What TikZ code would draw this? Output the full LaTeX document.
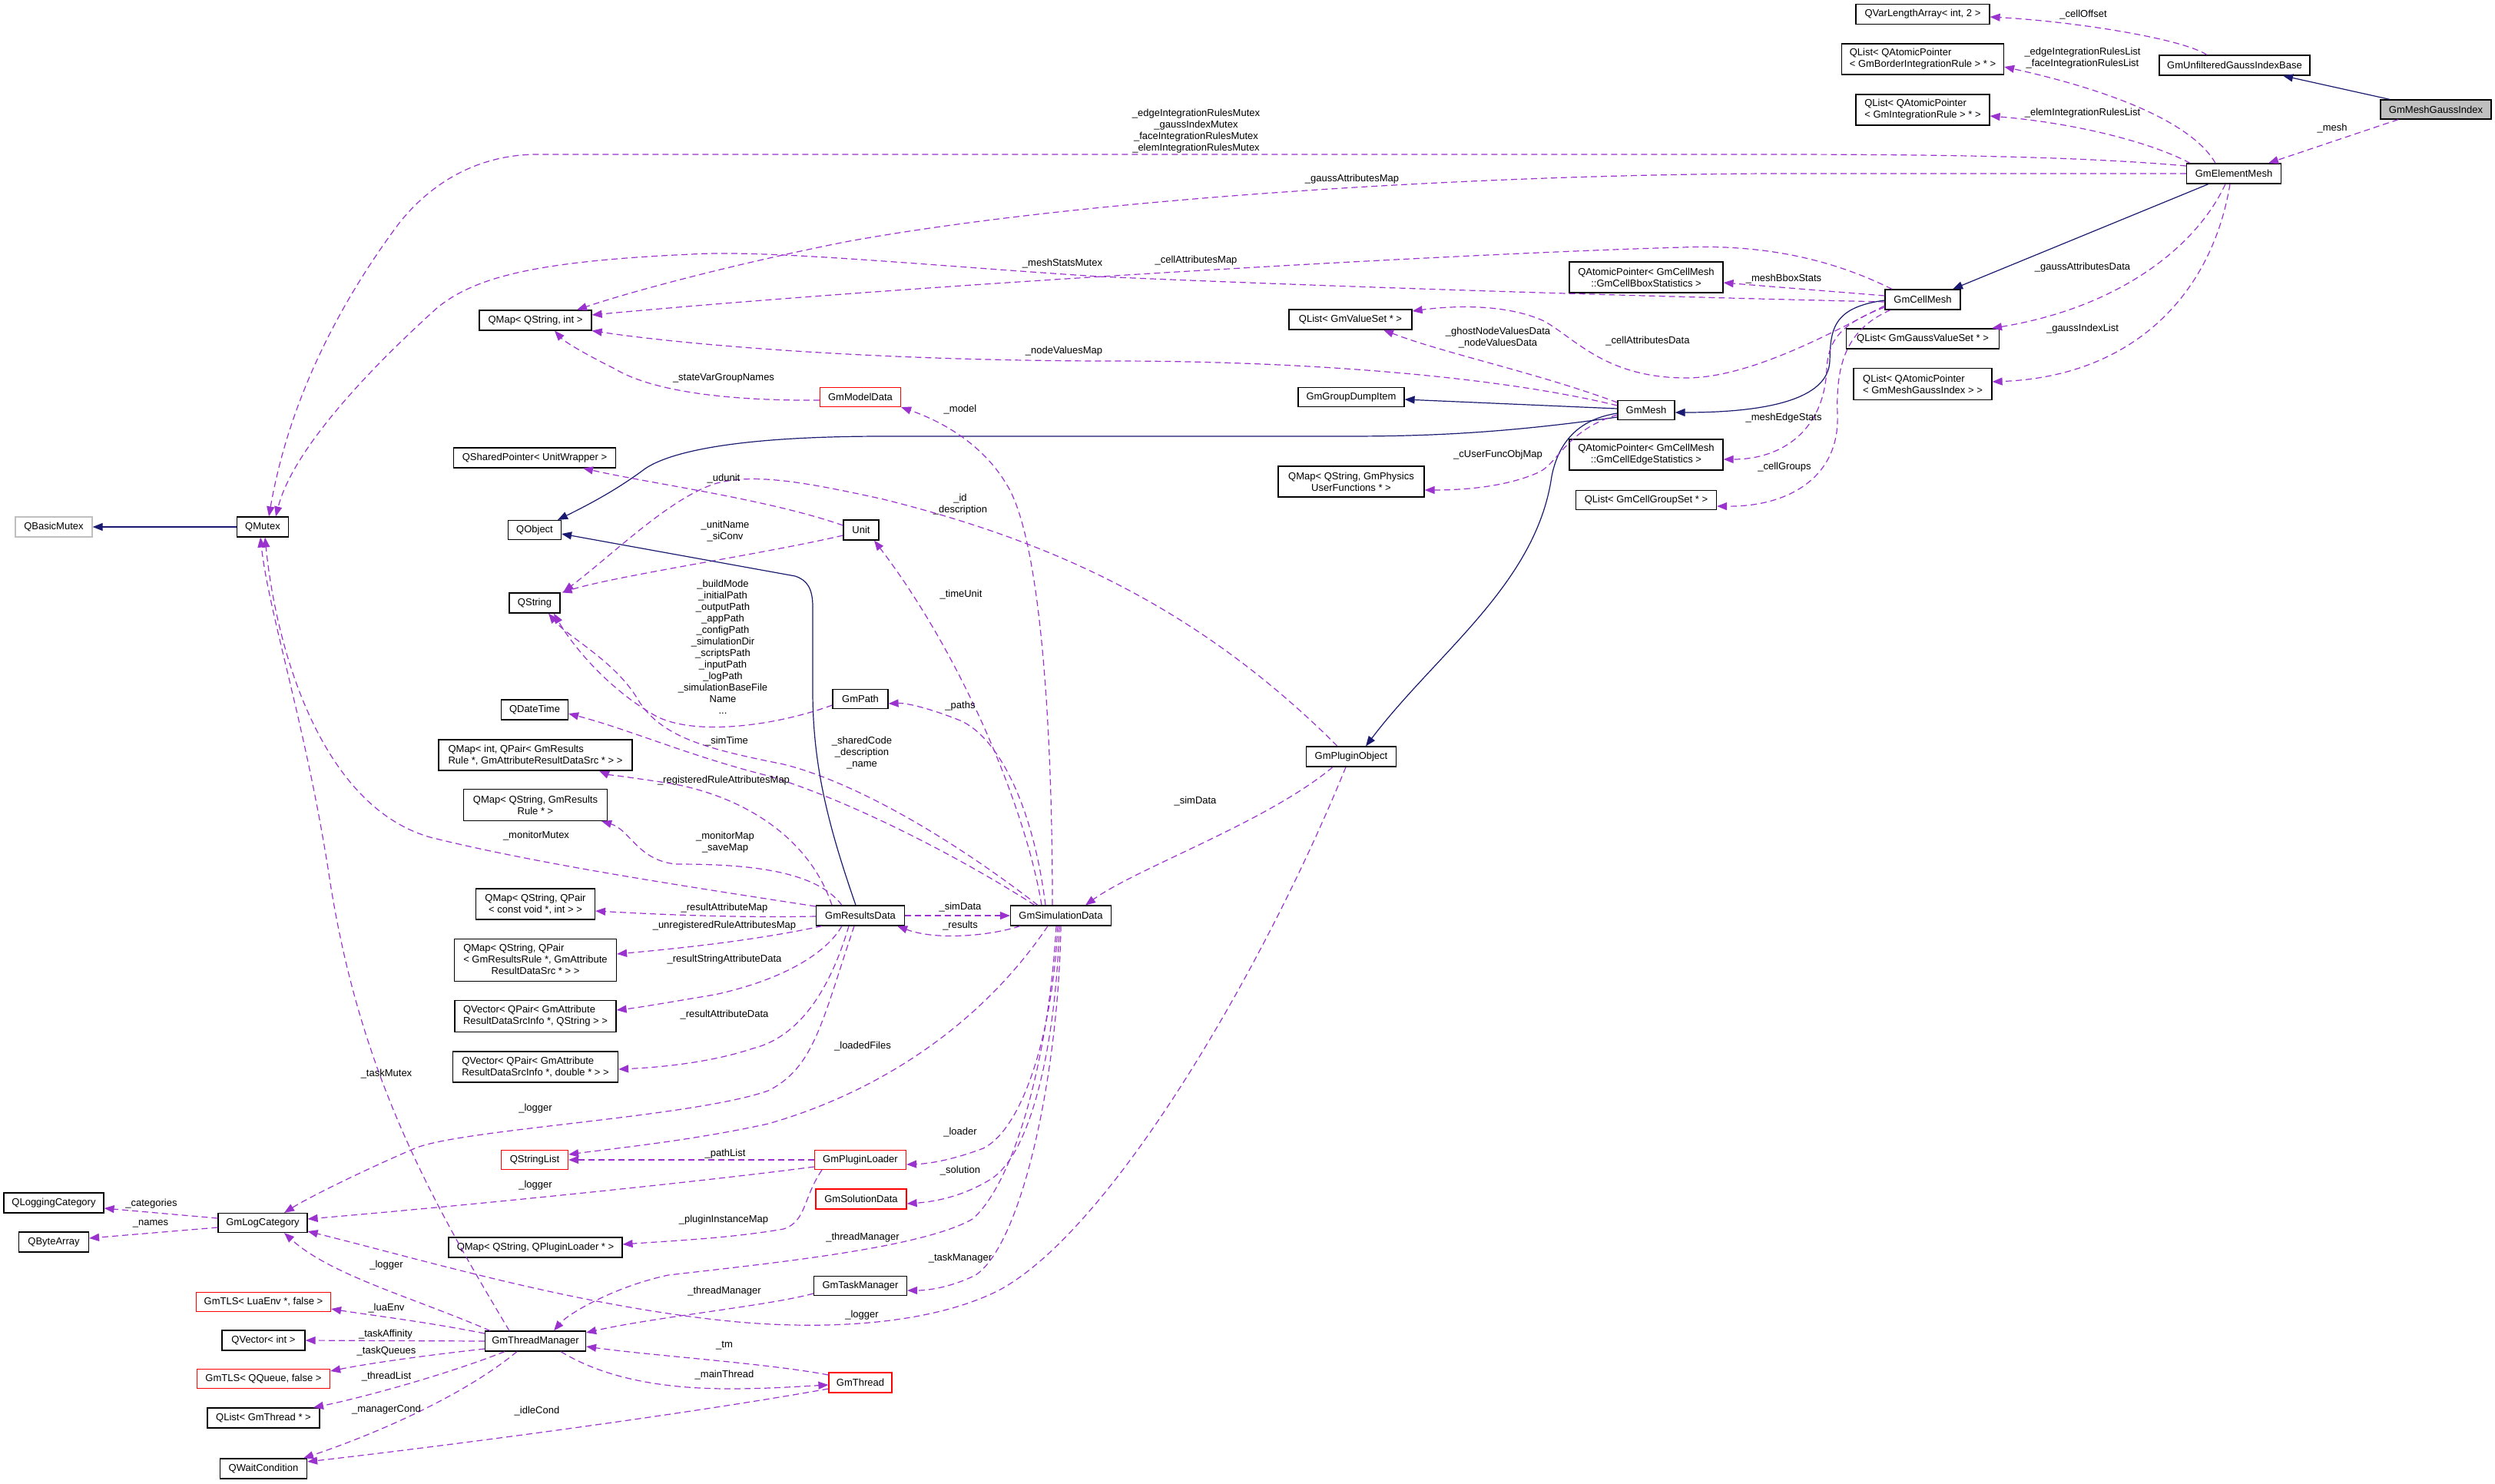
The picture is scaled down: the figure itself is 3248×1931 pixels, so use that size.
\documentclass[tikz,border=0pt]{standalone}
\usepackage{fontspec}
\setmainfont{Liberation Sans}
\usetikzlibrary{arrows.meta}
\definecolor{dp}{HTML}{9A32CD}
\definecolor{nv}{HTML}{191970}
\definecolor{gb}{HTML}{BFBFBF}
\begin{document}
\begin{tikzpicture}[x=1pt,y=-1pt,
  every node/.style={font=\fontsize{13pt}{15pt}\selectfont, inner sep=0pt},
  cls/.style={draw=black, line width=1.2pt, fill=white, inner xsep=6pt},
  redcls/.style={cls, draw=red},
  graycls/.style={cls, draw=gb},
  sz/.style 2 args={minimum width=#1pt, minimum height=#2pt},
  usage/.style={draw=dp, line width=1.2pt, dash pattern=on 8pt off 5pt, -{Triangle[length=13pt,width=10pt]}},
  inherit/.style={draw=nv, line width=1.2pt, -{Triangle[length=13pt,width=10pt]}},
  lbl/.style={align=center},
]
\fill[white] (0,0) rectangle (3248,1931);
\useasboundingbox (0,0) rectangle (3248,1931);
% ---------------- nodes ----------------
\node[cls, sz={174}{26}] (qvla) at (2503,18.5) {QVarLengthArray< int, 2 >};
\node[cls, sz={211}{40}, align=left] (qlb) at (2503,77) {QList< QAtomicPointer\\< GmBorderIntegrationRule > * >};
\node[cls, sz={174}{40}, align=left] (qli) at (2503,143) {QList< QAtomicPointer\\< GmIntegrationRule > * >};
\node[cls, sz={196}{26}] (unf) at (2909,85) {GmUnfilteredGaussIndexBase};
\node[cls, fill=gb, sz={144}{25}] (mgi) at (3171,142.5) {GmMeshGaussIndex};
\node[cls, sz={123}{26}] (elm) at (2908,226) {GmElementMesh};
\node[cls, sz={98}{26}] (cell) at (2503,390) {GmCellMesh};
\node[cls, sz={199}{26}] (qlg) at (2503,441) {QList< GmGaussValueSet * >};
\node[cls, sz={180}{41}, align=left] (qlm) at (2503,500) {QList< QAtomicPointer\\< GmMeshGaussIndex > >};
\node[cls, sz={200}{40}, align=center] (bbox) at (2143,361) {QAtomicPointer< GmCellMesh\\::GmCellBboxStatistics >};
\node[cls, sz={160}{26}] (qlvs) at (1758,416) {QList< GmValueSet * >};
\node[cls, sz={138}{25}] (gdi) at (1759,517) {GmGroupDumpItem};
\node[cls, sz={74}{25}] (mesh) at (2143,534) {GmMesh};
\node[cls, sz={200}{40}, align=center] (edge) at (2143,592) {QAtomicPointer< GmCellMesh\\::GmCellEdgeStatistics >};
\node[cls, sz={190}{40}, align=center] (qmph) at (1759,627) {QMap< QString, GmPhysics\\UserFunctions * >};
\node[cls, sz={183}{25}] (qlcg) at (2143,651) {QList< GmCellGroupSet * >};
\node[cls, sz={146}{26}] (qmsi) at (697,417) {QMap< QString, int >};
\node[redcls, sz={105}{25}] (model) at (1120,517) {GmModelData};
\node[cls, sz={211}{26}] (qsp) at (696,596) {QSharedPointer< UnitWrapper >};
\node[graycls, sz={100}{26}] (qbm) at (70,686) {QBasicMutex};
\node[cls, sz={67}{26}] (qmx) at (342,686) {QMutex};
\node[cls, sz={69}{25}] (qobj) at (696,690) {QObject};
\node[cls, sz={46}{26}] (unit) at (1121,690) {Unit};
\node[cls, sz={66}{26}] (qstr) at (696,785) {QString};
\node[cls, sz={87}{26}] (qdt) at (696,924) {QDateTime};
\node[cls, sz={252}{40}, align=left] (qmint) at (697,983) {QMap< int, QPair< GmResults\\Rule *, GmAttributeResultDataSrc * > >};
\node[cls, sz={72}{25}] (path) at (1120,910) {GmPath};
\node[cls, sz={117}{26}] (plo) at (1759,985) {GmPluginObject};
\node[cls, sz={187}{41}, align=center] (qmrr) at (697,1048) {QMap< QString, GmResults\\Rule * >};
\node[cls, sz={155}{40}, align=center] (qmcv) at (697,1177) {QMap< QString, QPair\\< const void *, int > >};
\node[cls, sz={115}{26}] (res) at (1120,1192) {GmResultsData};
\node[cls, sz={131}{26}] (sim) at (1381,1192) {GmSimulationData};
\node[cls, sz={211}{55}] (qmgp) at (697,1250) {\begin{tabular}{@{}l@{}}QMap< QString, QPair\\< GmResultsRule *, GmAttribute\\\multicolumn{1}{@{}c@{}}{ResultDataSrc * > >}\end{tabular}};
\node[cls, sz={210}{41}, align=left] (qvs) at (697,1323) {QVector< QPair< GmAttribute\\ResultDataSrcInfo *, QString > >};
\node[cls, sz={215}{40}, align=left] (qvd) at (697,1389) {QVector< QPair< GmAttribute\\ResultDataSrcInfo *, double * > >};
\node[redcls, sz={87}{25}] (qsl) at (696,1510) {QStringList};
\node[redcls, sz={119}{25}] (pll) at (1120,1510) {GmPluginLoader};
\node[redcls, sz={118}{26}] (sol) at (1121,1561) {GmSolutionData};
\node[cls, sz={130}{26}] (qlc) at (70,1566) {QLoggingCategory};
\node[cls, sz={116}{25}] (log) at (342,1592) {GmLogCategory};
\node[cls, sz={91}{26}] (qba) at (70,1617) {QByteArray};
\node[cls, sz={226}{26}] (qmpl) at (697,1624) {QMap< QString, QPluginLoader * >};
\node[cls, sz={121}{25}] (tm) at (1120,1674) {GmTaskManager};
\node[redcls, sz={175}{25}] (tlsl) at (343,1695) {GmTLS< LuaEnv *, false >};
\node[cls, sz={108}{26}] (qvi) at (343,1745) {QVector< int >};
\node[cls, sz={131}{26}] (thm) at (697,1746) {GmThreadManager};
\node[redcls, sz={173}{25}] (tlsq) at (343,1795) {GmTLS< QQueue, false >};
\node[redcls, sz={82}{26}] (thr) at (1120,1800) {GmThread};
\node[cls, sz={146}{26}] (qlt) at (343,1846) {QList< GmThread * >};
\node[cls, sz={113}{26}] (qwc) at (343,1912) {QWaitCondition};
% ---------------- edges ----------------
\draw[usage] ([xshift=-36pt]unf.north) .. controls (2840,50) and (2700,28) .. ([yshift=-3.5pt]qvla.east);
\draw[inherit] ([xshift=-60pt]mgi.north) -- ([xshift=63pt]unf.south);
\draw[usage] ([xshift=-49pt]mgi.south) -- ([xshift=45pt]elm.north);
\draw[usage] ([xshift=-24pt]elm.north) .. controls (2860,170) and (2780,125) .. ([yshift=-10pt]qlb.east);
\draw[usage] ([xshift=-57pt]elm.north) .. controls (2800,185) and (2700,160) .. ([yshift=-8pt]qli.east);
\draw[usage] ([yshift=10pt]elm.west) .. controls (2700,203) and (2500,201) .. (2300,201) -- (700,201) .. controls (620,201) and (560,240) .. (520,290) .. controls (460,370) and (380,500) .. ([xshift=8pt]qmx.north);
\draw[usage] (elm.west) -- (2300,226) .. controls (1900,228) and (1400,260) .. (1100,315) .. controls (950,345) and (820,380) .. ([xshift=54pt]qmsi.north);
\draw[inherit] ([xshift=-33pt]elm.south) -- ([xshift=39pt]cell.north);
\draw[usage] ([xshift=-11pt]elm.south) .. controls (2860,320) and (2760,400) .. ([xshift=90pt]qlg.north);
\draw[usage] ([xshift=-5pt]elm.south) .. controls (2880,380) and (2780,490) .. ([yshift=3pt]qlm.east);
\draw[usage] ([yshift=5pt]cell.west) -- ([yshift=-7pt]bbox.east);
\draw[usage] ([xshift=-40pt]cell.north) .. controls (2380,335) and (2290,318) .. (2190,322) .. controls (1900,330) and (1200,370) .. ([yshift=7pt]qmsi.east);
\draw[usage] ([yshift=-3pt]cell.west) .. controls (2100,385) and (1700,372) .. (1430,360) .. controls (1200,345) and (1000,325) .. (900,331) .. controls (700,340) and (620,360) .. (570,400) .. controls (470,490) and (380,590) .. ([xshift=17pt]qmx.north);
\draw[inherit] ([yshift=-1pt]cell.west) .. controls (2385,400) and (2383,430) .. (2382,470) .. controls (2380,520) and (2300,537) .. ([yshift=-3pt]mesh.east);
\draw[usage] ([yshift=-8pt]cell.west) .. controls (2390,430) and (2280,492) .. (2195,492) .. controls (2090,492) and (2050,440) .. (2010,418) .. controls (1960,395) and (1890,398) .. ([yshift=11pt]qlvs.east);
\draw[usage] ([yshift=10pt]mesh.west) .. controls (2000,485) and (1880,460) .. ([xshift=43pt]qlvs.south);
\draw[usage] ([yshift=6pt]mesh.west) .. controls (1950,490) and (1700,470) .. (1450,470) .. controls (1150,470) and (900,450) .. (qmsi.south east);
\draw[inherit] ([yshift=2pt]mesh.west) -- ([yshift=-3pt]gdi.east);
\draw[inherit] ([yshift=-9pt]mesh.west) .. controls (1950,565) and (1850,568) .. (1750,568) -- (1150,568) .. controls (950,568) and (870,590) .. (840,610) .. controls (800,640) and (760,660) .. ([xshift=30pt]qobj.north);
\draw[inherit] ([yshift=-4pt]mesh.west) .. controls (2060,545) and (2030,570) .. (2020,620) .. controls (2000,760) and (1870,850) .. ([xshift=19pt]plo.north);
\draw[usage] ([yshift=-6pt]mesh.west) .. controls (2040,560) and (2030,600) .. (2005,614) .. controls (1960,635) and (1900,638) .. ([yshift=-11pt]qmph.east);
\draw[usage] ([yshift=-10pt]cell.west) .. controls (2400,420) and (2380,440) .. (2378,480) .. controls (2375,560) and (2320,598) .. ([yshift=-6pt]edge.east);
\draw[usage] ([xshift=-42pt]cell.south) .. controls (2400,430) and (2390,480) .. (2392,540) .. controls (2395,620) and (2330,660) .. ([yshift=-8pt]qlcg.east);
\draw[usage] ([yshift=-4pt]model.west) .. controls (950,522) and (850,510) .. (800,480) .. controls (760,460) and (735,445) .. ([xshift=25pt]qmsi.south);
\draw[usage] ([xshift=-11pt]sim.north) .. controls (1370,950) and (1355,700) .. (1310,630) .. controls (1280,580) and (1230,550) .. (model.south east);
\draw[usage] ([xshift=-25pt]sim.north) .. controls (1335,1050) and (1250,850) .. ([xshift=17pt]unit.south);
\draw[usage] ([xshift=-20pt]sim.north) .. controls (1345,1050) and (1300,960) .. (1250,938) .. controls (1210,922) and (1180,915) .. ([yshift=-6pt]path.east);
\draw[usage] ([xshift=-30pt]sim.north) .. controls (1250,1100) and (1120,1020) .. (1020,995) .. controls (920,975) and (860,960) .. (830,910) .. controls (800,860) and (740,830) .. ([xshift=18pt]qstr.south);
\draw[usage] ([xshift=-34pt]sim.north) .. controls (1240,1110) and (1100,1040) .. (1000,1010) .. controls (900,985) and (820,950) .. ([yshift=-5pt]qdt.east);
\draw[usage] ([yshift=-8pt]path.west) .. controls (1010,945) and (900,960) .. (850,930) .. controls (790,895) and (745,840) .. ([xshift=25pt]qstr.south);
\draw[usage] ([xshift=-18pt]plo.north) .. controls (1550,780) and (1350,700) .. (1150,650) .. controls (1050,628) and (980,615) .. (930,630) .. controls (870,650) and (800,720) .. ([xshift=4pt,yshift=1pt]qstr.north east);
\draw[usage] ([yshift=6pt]unit.west) .. controls (1000,650) and (850,630) .. ([xshift=63pt]qsp.south);
\draw[usage] ([yshift=-7pt]unit.west) .. controls (1000,720) and (800,750) .. ([xshift=2pt]qstr.north east);
\draw[usage] ([xshift=-24pt]plo.south) .. controls (1650,1070) and (1480,1130) .. ([xshift=32pt]sim.north);
\draw[usage] ([xshift=-7pt]plo.south) .. controls (1650,1250) and (1450,1600) .. (1300,1680) .. controls (1200,1730) and (1050,1730) .. (950,1720) .. controls (750,1700) and (550,1640) .. ([yshift=-11pt]log.east);
\draw[usage] (res.east) -- (sim.west);
\draw[usage] ([xshift=-53pt]sim.south) .. controls (1290,1218) and (1220,1225) .. ([xshift=-10pt]res.south east);
\draw[inherit] ([xshift=-6pt]res.north) .. controls (1080,1080) and (1058,1000) .. (1058,900) -- (1058,790) .. controls (1058,765) and (1050,755) .. (1035,750) -- ([yshift=-5pt]qobj.east);
\draw[usage] ([xshift=-24pt]res.north) .. controls (1060,1130) and (960,1125) .. (880,1125) .. controls (830,1120) and (820,1080) .. ([xshift=-8pt]qmrr.south east);
\draw[usage] ([xshift=-37pt]res.north) .. controls (1050,1080) and (950,1030) .. (860,1018) .. controls (820,1012) and (790,1008) .. ([xshift=83pt]qmint.south);
\draw[usage] ([yshift=12pt]res.west) .. controls (900,1155) and (700,1125) .. (560,1090) .. controls (420,1050) and (360,850) .. ([xshift=3pt]qmx.south);
\draw[usage] ([xshift=-34pt]thm.north) .. controls (560,1560) and (470,1400) .. (430,1150) .. controls (400,950) and (350,800) .. ([xshift=-3pt]qmx.south);
\draw[usage] ([yshift=-1pt]res.west) .. controls (950,1195) and (850,1190) .. ([yshift=-9pt]qmcv.east);
\draw[usage] ([xshift=-50pt]res.south) .. controls (980,1225) and (880,1235) .. ([yshift=8pt]qmgp.east);
\draw[usage] ([xshift=-24pt]res.south) .. controls (1070,1250) and (1000,1280) .. (930,1295) .. controls (870,1305) and (830,1312) .. ([yshift=8pt]qvs.east);
\draw[usage] ([xshift=-15pt]res.south) .. controls (1080,1290) and (1040,1350) .. (980,1365) .. controls (920,1385) and (850,1390) .. ([yshift=-3pt]qvd.east);
\draw[usage] ([xshift=-8pt]res.south) .. controls (1070,1330) and (1060,1390) .. (1000,1420) .. controls (900,1455) and (600,1470) .. (540,1495) .. controls (470,1525) and (400,1560) .. ([xshift=28pt]log.north);
\draw[usage] ([xshift=-17pt]sim.south) .. controls (1280,1330) and (1150,1420) .. (1000,1463) .. controls (900,1485) and (800,1495) .. ([yshift=7pt]qsl.east);
\draw[usage] (pll.west) -- (qsl.east);
\draw[usage] ([yshift=-9pt]pll.west) .. controls (900,1540) and (600,1570) .. ([yshift=5pt]log.east);
\draw[usage] ([xshift=-4pt]sim.south) .. controls (1370,1350) and (1330,1470) .. (1280,1495) .. controls (1240,1510) and (1210,1515) .. ([yshift=-6pt]pll.east);
\draw[usage] ([xshift=-2pt]sim.south) .. controls (1375,1350) and (1345,1500) .. (1290,1535) .. controls (1250,1560) and (1210,1565) .. ([yshift=-6pt]sol.east);
\draw[usage] (sim.south) .. controls (1378,1400) and (1330,1620) .. (1270,1660) .. controls (1240,1675) and (1210,1680) .. ([yshift=-6pt]tm.east);
\draw[usage] ([xshift=-6pt]sim.south) .. controls (1365,1380) and (1320,1540) .. (1266,1587) .. controls (1200,1625) and (1000,1645) .. (870,1660) .. controls (800,1675) and (740,1710) .. ([xshift=24pt]thm.north);
\draw[usage] ([xshift=-50pt]pll.south) .. controls (1045,1560) and (1050,1590) .. (1020,1600) .. controls (950,1612) and (880,1615) .. ([yshift=4pt]qmpl.east);
\draw[usage] ([yshift=-10pt]tm.west) .. controls (1000,1700) and (850,1715) .. ([yshift=11pt]thm.east);
\draw[usage] ([yshift=10pt]thr.west) .. controls (1000,1775) and (850,1765) .. ([yshift=-7pt]thm.east);
\draw[usage] ([xshift=33pt]thm.south) .. controls (780,1790) and (850,1808) .. (950,1808) .. controls (1000,1808) and (1040,1805) .. ([yshift=-3pt]thr.west);
\draw[usage] ([yshift=-8pt]thr.west) .. controls (900,1840) and (600,1880) .. ([yshift=9pt]qwc.east);
\draw[usage] ([xshift=-59pt]thm.north) .. controls (540,1690) and (430,1660) .. ([xshift=28pt]log.south);
\draw[usage] ([yshift=10pt]thm.west) .. controls (550,1720) and (480,1712) .. ([yshift=-9pt]tlsl.east);
\draw[usage] (thm.west) -- (qvi.east);
\draw[usage] ([yshift=-10pt]thm.west) .. controls (550,1765) and (480,1775) .. ([yshift=10pt]tlsq.east);
\draw[usage] ([xshift=-40pt]thm.south) .. controls (580,1790) and (470,1820) .. ([xshift=65pt]qlt.north);
\draw[usage] ([xshift=-24pt]thm.south) .. controls (600,1820) and (480,1870) .. ([xshift=52pt]qwc.north);
\draw[usage] ([yshift=6pt]log.west) -- ([yshift=-7pt]qlc.east);
\draw[usage] ([yshift=-6pt]log.west) -- ([yshift=5pt]qba.east);
\draw[inherit] (qmx.west) -- (qbm.east);
% ---------------- labels ----------------
\node[lbl] (l1) at (2712,19) {\_cellOffset};
\node[lbl] (l2) at (2711,75.5) {\_edgeIntegrationRulesList\\\_faceIntegrationRulesList};
\node[lbl] (l3) at (2711,147) {\_elemIntegrationRulesList};
\node[lbl] (l4) at (3036,167) {\_mesh};
\node[lbl] (l5) at (1557,171) {\_edgeIntegrationRulesMutex\\\_gaussIndexMutex\\\_faceIntegrationRulesMutex\\\_elemIntegrationRulesMutex};
\node[lbl] (l6) at (1760,233) {\_gaussAttributesMap};
\node[lbl] (l7) at (2322,363) {\_meshBboxStats};
\node[lbl] (l8) at (1557,339) {\_cellAttributesMap};
\node[lbl] (l9) at (1383,343) {\_meshStatsMutex};
\node[lbl] (l10) at (2711,348) {\_gaussAttributesData};
\node[lbl] (l11) at (2711,428) {\_gaussIndexList};
\node[lbl] (l12) at (1950,439.5) {\_ghostNodeValuesData\\\_nodeValuesData};
\node[lbl] (l13) at (2145,444) {\_cellAttributesData};
\node[lbl] (l14) at (1385,457) {\_nodeValuesMap};
\node[lbl] (l15) at (2322,544) {\_meshEdgeStats};
\node[lbl] (l16) at (1950,592) {\_cUserFuncObjMap};
\node[lbl] (l17) at (2323,608) {\_cellGroups};
\node[lbl] (l18) at (942,492) {\_stateVarGroupNames};
\node[lbl] (l19) at (1250,533) {\_model};
\node[lbl] (l20) at (942,623) {\_udunit};
\node[lbl] (l21) at (1250,656.5) {\_id\\\_description};
\node[lbl] (l22) at (944,691.5) {\_unitName\\\_siConv};
\node[lbl] (l23) at (1251,774) {\_timeUnit};
\node[lbl] (l24) at (941,842) {\_buildMode\\\_initialPath\\\_outputPath\\\_appPath\\\_configPath\\\_simulationDir\\\_scriptsPath\\\_inputPath\\\_logPath\\\_simulationBaseFile\\Name\\...};
\node[lbl] (l25) at (1250,919) {\_paths};
\node[lbl] (l26) at (946,965) {\_simTime};
\node[lbl] (l27) at (1122,980) {\_sharedCode\\\_description\\\_name};
\node[lbl] (l28) at (942,1016) {\_registeredRuleAttributesMap};
\node[lbl] (l29) at (1556,1043) {\_simData};
\node[lbl] (l30) at (698,1088) {\_monitorMutex};
\node[lbl] (l31) at (944,1096.5) {\_monitorMap\\\_saveMap};
\node[lbl] (l32) at (943,1182) {\_resultAttributeMap};
\node[lbl] (l33) at (1250,1181) {\_simData};
\node[lbl] (l34) at (943,1205) {\_unregisteredRuleAttributesMap};
\node[lbl] (l35) at (1250,1205) {\_results};
\node[lbl] (l36) at (943,1249) {\_resultStringAttributeData};
\node[lbl] (l37) at (943,1321) {\_resultAttributeData};
\node[lbl] (l38) at (1123,1362) {\_loadedFiles};
\node[lbl] (l39) at (503,1398) {\_taskMutex};
\node[lbl] (l40) at (697,1443) {\_logger};
\node[lbl] (l41) at (1250,1474) {\_loader};
\node[lbl] (l42) at (944,1502) {\_pathList};
\node[lbl] (l43) at (1250,1524) {\_solution};
\node[lbl] (l44) at (697,1543) {\_logger};
\node[lbl] (l45) at (197,1567) {\_categories};
\node[lbl] (l46) at (942,1588) {\_pluginInstanceMap};
\node[lbl] (l47) at (196,1593) {\_names};
\node[lbl] (l48) at (1123,1611) {\_threadManager};
\node[lbl] (l49) at (1250,1638) {\_taskManager};
\node[lbl] (l50) at (503,1647) {\_logger};
\node[lbl] (l51) at (943,1681) {\_threadManager};
\node[lbl] (l52) at (503,1703) {\_luaEnv};
\node[lbl] (l53) at (1122,1712) {\_logger};
\node[lbl] (l54) at (502,1737) {\_taskAffinity};
\node[lbl] (l55) at (943,1752) {\_tm};
\node[lbl] (l56) at (503,1759) {\_taskQueues};
\node[lbl] (l57) at (943,1790) {\_mainThread};
\node[lbl] (l58) at (503,1792) {\_threadList};
\node[lbl] (l59) at (503,1835) {\_managerCond};
\node[lbl] (l60) at (699,1837) {\_idleCond};
\end{tikzpicture}
\end{document}
